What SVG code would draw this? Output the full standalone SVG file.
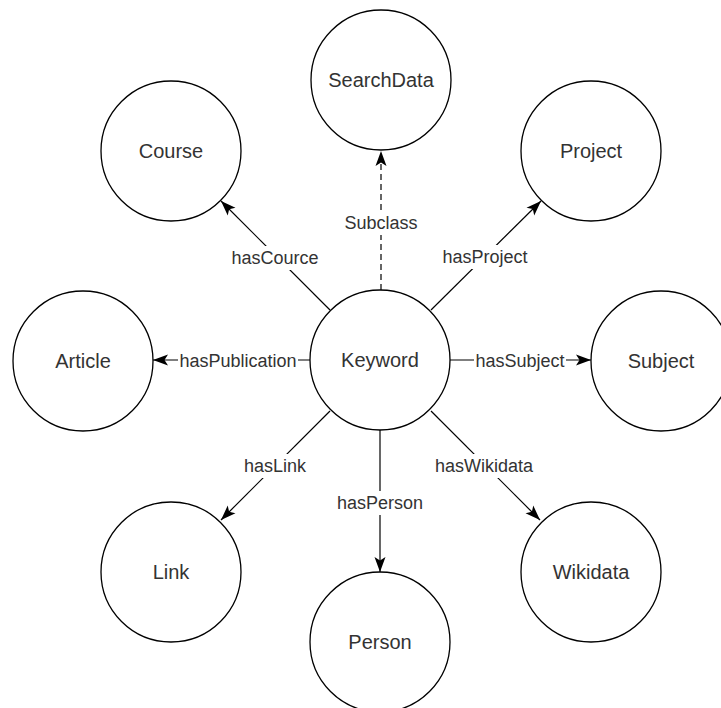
<svg xmlns="http://www.w3.org/2000/svg" width="721" height="708" viewBox="0 0 721 708">
<style>
.node circle{fill:#fff;stroke:#000;stroke-width:1.3}
.node text{font-family:"Liberation Sans",Arial,sans-serif;font-size:20px;fill:#333;text-anchor:middle}
.edge{stroke:#000;stroke-width:1.2;fill:none}
.lbl rect{fill:#fff}
.lbl text{font-family:"Liberation Sans",Arial,sans-serif;font-size:18px;fill:#333;text-anchor:middle}
</style>
<defs>
<marker id="arr" markerUnits="userSpaceOnUse" markerWidth="16" markerHeight="14" viewBox="0 0 16 14" refX="15" refY="7" orient="auto">
<path d="M0,1.5 L15,7 L0,12.5 L3.5,7 Z" fill="#000"/>
</marker>
</defs>
<rect width="721" height="708" fill="#fff"/>
<g id="connectors">
<path class="edge" d="M381,290 L381,151" stroke-dasharray="6 4" marker-end="url(#arr)"/>
<path class="edge" d="M330,310 L221,201" marker-end="url(#arr)"/>
<path class="edge" d="M431,310 L541,201" marker-end="url(#arr)"/>
<path class="edge" d="M310,360 L153,360" marker-end="url(#arr)"/>
<path class="edge" d="M450,360 L591,360" marker-end="url(#arr)"/>
<path class="edge" d="M330,411 L221,520" marker-end="url(#arr)"/>
<path class="edge" d="M380,430 L380,572" stroke-width="1.8" marker-end="url(#arr)"/>
<path class="edge" d="M431,411 L540,520" marker-end="url(#arr)"/>
<g class="lbl">
<rect x="343" y="211" width="76" height="24"/><text x="381" y="229">Subclass</text>
<rect x="230" y="246" width="90" height="24"/><text x="275" y="264">hasCource</text>
<rect x="441" y="245" width="88" height="24"/><text x="485" y="263">hasProject</text>
<rect x="178" y="350" width="120" height="22"/><text x="238" y="367">hasPublication</text>
<rect x="474" y="350" width="92" height="22"/><text x="520" y="367">hasSubject</text>
<rect x="243" y="454" width="64" height="24"/><text x="275" y="472">hasLink</text>
<rect x="336" y="491" width="88" height="24"/><text x="380" y="509">hasPerson</text>
<rect x="434" y="454" width="100" height="24"/><text x="484" y="472">hasWikidata</text>
</g>
</g>
<g id="node-searchdata" class="node"><circle cx="381" cy="80" r="70"/><text x="381" y="87">SearchData</text></g>
<g id="node-course" class="node"><circle cx="171" cy="151" r="70"/><text x="171" y="158">Course</text></g>
<g id="node-project" class="node"><circle cx="591" cy="151" r="70"/><text x="591" y="158">Project</text></g>
<g id="node-article" class="node"><circle cx="83" cy="361" r="70"/><text x="83" y="368">Article</text></g>
<g id="node-keyword" class="node"><circle cx="380" cy="360" r="70"/><text x="380" y="367">Keyword</text></g>
<g id="node-subject" class="node"><circle cx="661" cy="361" r="70"/><text x="661" y="368">Subject</text></g>
<g id="node-link" class="node"><circle cx="171" cy="572" r="70"/><text x="171" y="579">Link</text></g>
<g id="node-person" class="node"><circle cx="380" cy="642" r="70"/><text x="380" y="649">Person</text></g>
<g id="node-wikidata" class="node"><circle cx="591" cy="572" r="70"/><text x="591" y="579">Wikidata</text></g>
</svg>
